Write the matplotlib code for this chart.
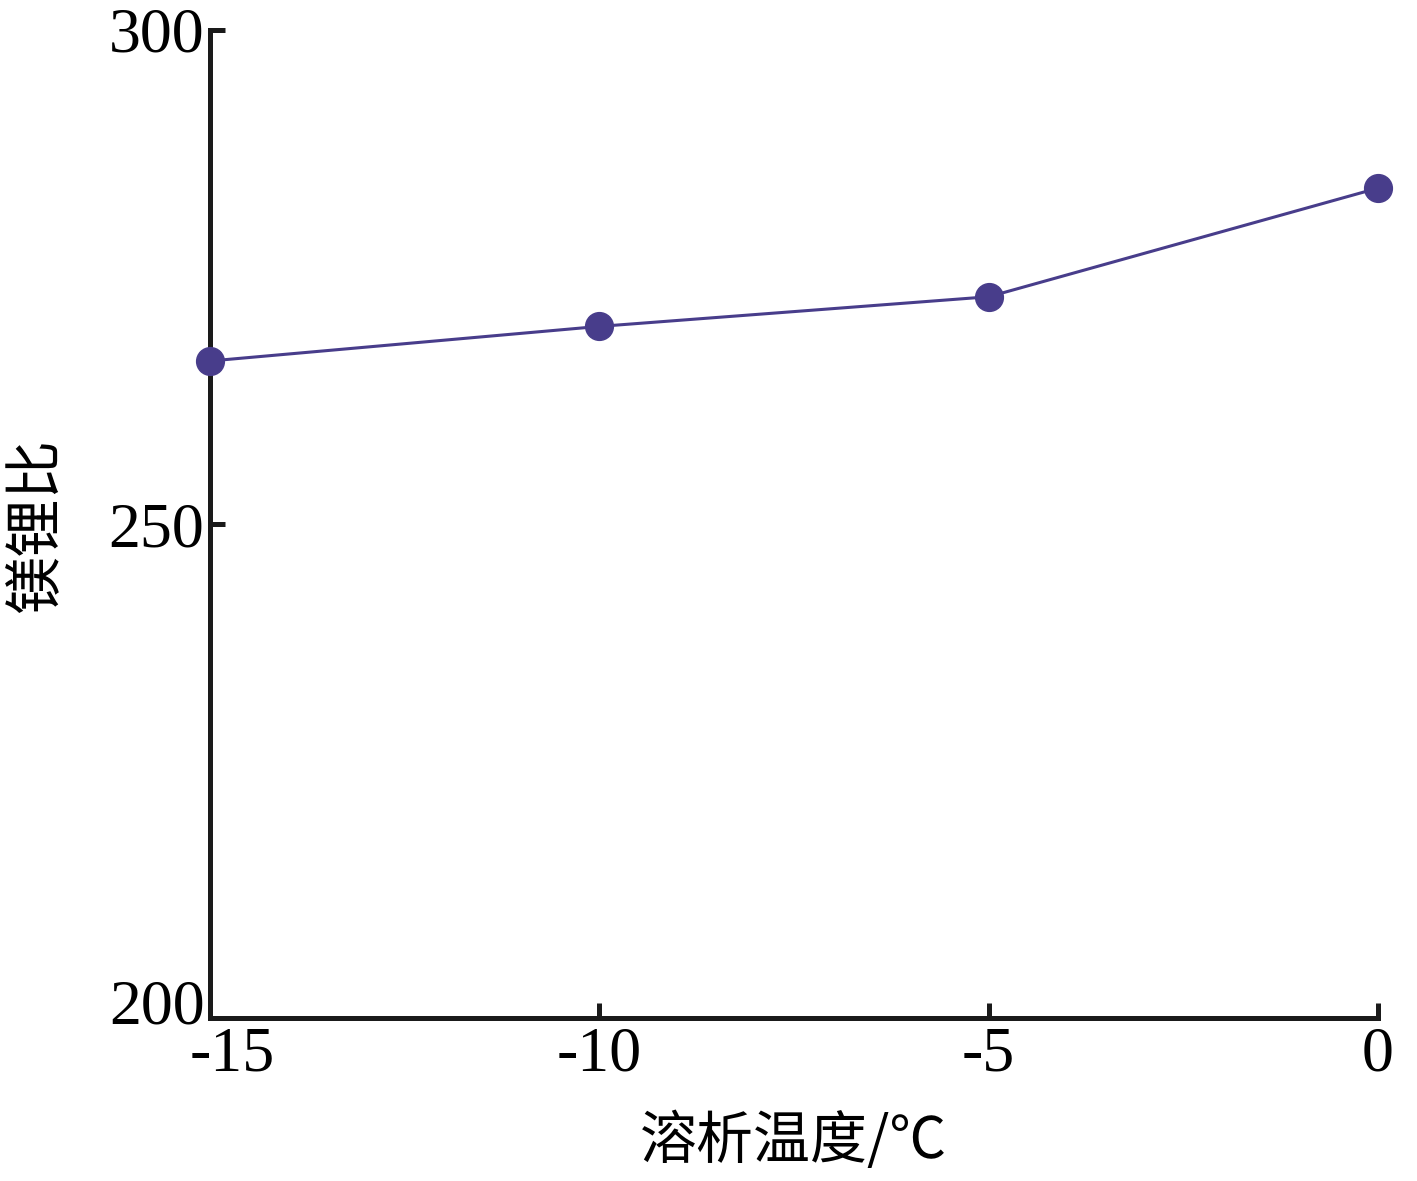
import matplotlib
matplotlib.use("Agg")
import matplotlib.pyplot as plt
from matplotlib.transforms import ScaledTranslation

# data
temps = [-15, -10, -5, 0]
mg_li_ratio = [266.5, 270.0, 273.0, 284.0]
x_ticks = [-15, -10, -5, 0]
y_ticks = [200, 250, 300]

line_color = "#483D8B"
cjk = ["Noto Sans CJK SC", "DejaVu Sans"]
serif = ["Liberation Serif", "DejaVu Serif"]

fig = plt.figure(figsize=(14.17, 11.81), dpi=100)
ax = fig.add_axes([0.1482, 0.138, 0.8243, 0.8366])

ax.plot(temps, mg_li_ratio, color=line_color, lw=2.2, marker="o",
        markersize=20, markerfacecolor=line_color, markeredgecolor=line_color,
        clip_on=False, zorder=3)

ax.set_xlim(-15, 0)
ax.set_ylim(200, 300)
ax.set_xticks(x_ticks)
ax.set_yticks(y_ticks)
ax.set_xticklabels([str(t) for t in x_ticks], family=serif, fontsize=46)
ax.set_yticklabels([str(t) for t in y_ticks], family=serif, fontsize=46)

for side in ["top", "right"]:
    ax.spines[side].set_visible(False)
for side in ["left", "bottom"]:
    ax.spines[side].set_linewidth(3.6)
    ax.spines[side].set_color("#1a1a1a")

ax.tick_params(axis="both", direction="in", length=11, width=3.6,
               color="#1a1a1a", pad=6)
ax.tick_params(axis="y", pad=4)

# the corner labels are nudged apart as in the original
fig.canvas.draw()
xl = ax.get_xticklabels()[0]
xl.set_transform(xl.get_transform() + ScaledTranslation(0.22, 0, fig.dpi_scale_trans))
yl = ax.get_yticklabels()[0]
yl.set_transform(yl.get_transform() + ScaledTranslation(0, 0.17, fig.dpi_scale_trans))

ax.set_xlabel("溶析温度/℃", family=cjk, fontsize=41, labelpad=20)
ax.set_ylabel("镁锂比", family=cjk, fontsize=42, labelpad=30)

fig.savefig("out.png", dpi=100)
